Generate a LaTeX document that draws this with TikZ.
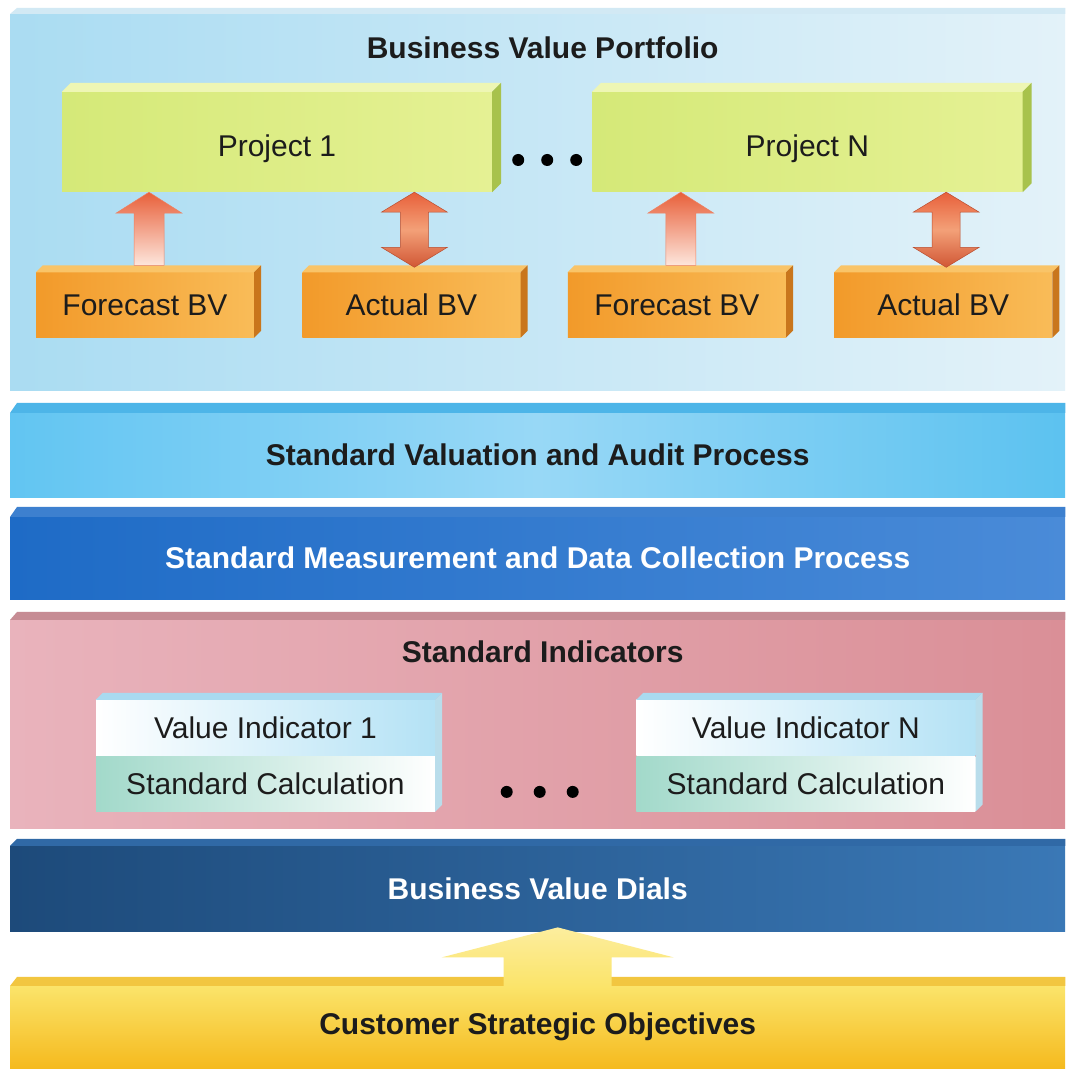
\documentclass[tikz,border=0pt]{standalone}
\usepackage{fontspec}
\setmainfont{Liberation Sans}
\usetikzlibrary{positioning,calc}

\definecolor{txtdark}{HTML}{1C1C1C}
\definecolor{skyL}{HTML}{AADCF2}
\definecolor{skyR}{HTML}{E3F2F9}
\definecolor{skyTop}{HTML}{D2E9F4}
\definecolor{audL}{HTML}{62C5F2}
\definecolor{audM}{HTML}{98D8F6}
\definecolor{audR}{HTML}{5CC2F0}
\definecolor{audTop}{HTML}{4DB5E8}
\definecolor{meaL}{HTML}{1E6BC6}
\definecolor{meaR}{HTML}{4A8BD8}
\definecolor{meaTop}{HTML}{3D80CF}
\definecolor{pinkL}{HTML}{E9B3BC}
\definecolor{pinkR}{HTML}{DA8F97}
\definecolor{pinkTop}{HTML}{C68C94}
\definecolor{dialL}{HTML}{1D4A7A}
\definecolor{dialR}{HTML}{3A78B6}
\definecolor{dialTop}{HTML}{3069A6}
\definecolor{goldT}{HTML}{FBE46A}
\definecolor{goldB}{HTML}{F5BA1E}
\definecolor{goldTop}{HTML}{F2C640}
\definecolor{limeL}{HTML}{D5E978}
\definecolor{limeR}{HTML}{E5F194}
\definecolor{limeTop}{HTML}{EEF6B4}
\definecolor{limeSide}{HTML}{A8C24C}
\definecolor{orgL}{HTML}{F29A2A}
\definecolor{orgR}{HTML}{F9BC58}
\definecolor{orgTop}{HTML}{F9C468}
\definecolor{orgSide}{HTML}{C9761C}
\definecolor{redArr}{HTML}{E8603A}
\definecolor{redPale}{HTML}{FDE6DC}
\definecolor{redMid}{HTML}{F3A078}
\definecolor{indBlue}{HTML}{B4E2F5}
\definecolor{indTeal}{HTML}{A2D9CA}
\definecolor{indTopF}{HTML}{A9DAF0}
\definecolor{indSide}{HTML}{B9DDEB}

\newcommand{\labelfont}{\fontsize{30}{36}\selectfont}
\newcommand{\headfont}{\fontsize{30}{36}\selectfont\bfseries}

% top and side face of a box (top node, bottom node, depth, colours)
\newcommand{\boxfaces}[5]{%
  \fill[#4] (#1.north west) -- ++(#3,#3) -- ($(#1.north east)+(#3,#3)$) -- (#1.north east) -- cycle;
  \fill[#5] (#1.north east) -- ++(#3,#3) -- ($(#2.south east)+(#3,#3)$) -- (#2.south east) -- cycle;}
% top strip of a band
\newcommand{\bandtop}[3]{%
  \fill[#2] (#1.north west) -- ++(7,#3) -- ($(#1.north east)+(0,#3)$) -- (#1.north east) -- cycle;}

\begin{document}
\begin{tikzpicture}[x=1pt,y=1pt,
      band_st/.style={
         anchor=north west,
         minimum width=1055pt,
         inner sep=0pt,
         font=\headfont,
         text=txtdark},
      proj_box/.style={
         minimum width=430pt,
         minimum height=100pt,
         inner sep=0pt,
         text height=29pt,
         text depth=0pt,
         left color=limeL,
         right color=limeR,
         font=\labelfont,
         text=txtdark},
      bv_box/.style={
         minimum width=218pt,
         minimum height=65pt,
         inner sep=0pt,
         left color=orgL,
         right color=orgR,
         font=\labelfont,
         text=txtdark},
      ind_box/.style={
         minimum width=339pt,
         minimum height=56pt,
         inner sep=0pt,
         left color=white,
         right color=indBlue,
         font=\labelfont,
         text=txtdark},
      calc_box/.style={
         ind_box,
         minimum height=55pt,
         left color=indTeal,
         right color=white},
      title_txt/.style={
         font=\headfont,
         text=txtdark,
         inner sep=0pt},
      arrow_up/.style={
         top color=redArr,
         bottom color=redPale,
         draw=redArr!80,
         line width=0.5pt},
      arrow_both/.style={
         top color=redArr,
         bottom color=redArr!90!black,
         middle color=redMid,
         draw=redArr!80!black,
         line width=0.5pt},
      arrow_gold/.style={
         top color=goldT!65!white,
         bottom color=goldT},
      dot_fill/.style={fill=black}
]
      \path[use as bounding box, fill=white] (0,0) rectangle (1065,1070);

      %portfolio
      \node[band_st, minimum height=376pt, left color=skyL, right color=skyR] (portfolio) at (10,1056) {};
      \bandtop{portfolio}{skyTop}{6}
      \node[title_txt] (portfolio_t) at ($(portfolio.north)+(5,-34)$) {Business Value Portfolio};

      \node[proj_box] (p1) at (277,928) {Project 1};
      \node[proj_box, right=100pt of p1] (pN) {Project N};
      \boxfaces{p1}{p1}{9}{limeTop}{limeSide}
      \boxfaces{pN}{pN}{9}{limeTop}{limeSide}
      \coordinate (dots_p) at ($(p1.east)!0.5!(pN.west)+(5,-18)$);
      \foreach \dx in {-29,0,29}
        \fill[dot_fill] ($(dots_p)+(\dx,0)$) circle (6);

      \node[bv_box] (fc1) at (145,765) {Forecast BV};
      \node[bv_box, right=48pt of fc1] (ac1) {Actual BV};
      \node[bv_box, right=47pt of ac1] (fc2) {Forecast BV};
      \node[bv_box, right=48pt of fc2] (ac2) {Actual BV};
      \foreach \n in {fc1,ac1,fc2,ac2}
        {\boxfaces{\n}{\n}{7}{orgTop}{orgSide}}

    \foreach \a/\b in {fc1/p1, fc2/pN}% forecast/project
      \path[arrow_up] let \p1=(\a.north), \p2=(\b.south) in
        (\x1-11,\y1+7) -- (\x1+19,\y1+7) -- (\x1+19,\y2-21) -- (\x1+37,\y2-21)
        -- (\x1+4,\y2) -- (\x1-29,\y2-21) -- (\x1-11,\y2-21) -- cycle;

    \foreach \a/\b in {ac1/p1, ac2/pN}% actual/project
      \path[arrow_both] let \p1=(\a.north), \p2=(\b.south) in
        (\x1+3,\y1+5) -- (\x1+36,\y1+25) -- (\x1+17,\y1+25) -- (\x1+17,\y2-20)
        -- (\x1+36,\y2-20) -- (\x1+3,\y2) -- (\x1-30,\y2-20) -- (\x1-11,\y2-20)
        -- (\x1-11,\y1+25) -- (\x1-30,\y1+25) -- cycle;

      %processes
      \node[band_st, minimum height=84pt, left color=audL, right color=audR, middle color=audM] (valuation) at (10,657) {Standard Valuation and Audit Process};
      \bandtop{valuation}{audTop}{10}
      \node[band_st, minimum height=82pt, left color=meaL, right color=meaR, text=white] (measure) at (10,553) {Standard Measurement and Data Collection Process};
      \bandtop{measure}{meaTop}{10}

      %indicators
      \node[band_st, minimum height=208pt, left color=pinkL, right color=pinkR] (indicators) at (10,450) {};
      \bandtop{indicators}{pinkTop}{8}
      \node[title_txt] (indicators_t) at ($(indicators.north)+(5,-32)$) {Standard Indicators};

      \node[ind_box] (ind1) at (265.5,342) {Value Indicator 1};
      \node[calc_box, below=0pt of ind1] (calc1) {Standard Calculation};
      \node[ind_box, right=201pt of ind1] (indN) {Value Indicator N};
      \node[calc_box, below=0pt of indN] (calcN) {Standard Calculation};
      \boxfaces{ind1}{calc1}{7}{indTopF}{indSide}
      \boxfaces{indN}{calcN}{7}{indTopF}{indSide}
      \coordinate (dots_i) at ($(calc1.east)!0.5!(calcN.west)+(4,-8)$);
      \foreach \dx in {-33,0,33}
        \fill[dot_fill] ($(dots_i)+(\dx,0)$) circle (6);

      %dials and objectives
      \node[band_st, minimum height=85pt, left color=dialL, right color=dialR, text=white] (dials) at (10,224) {Business Value Dials};
      \bandtop{dials}{dialTop}{7}
      \node[band_st, minimum height=82pt, top color=goldT, bottom color=goldB] (objectives) at (10,84) {Customer Strategic Objectives};
      \bandtop{objectives}{goldTop}{9}

      \path[arrow_gold] let \p1=(objectives.north), \p2=(dials.south) in
        (\x1-34,\y1) -- (\x1+74,\y1) -- (\x1+74,\y2-26) -- (\x1+136,\y2-26)
        -- (\x1+20,\y2+4) -- (\x1-96,\y2-26) -- (\x1-34,\y2-26) -- cycle;

\end{tikzpicture}
\end{document}
